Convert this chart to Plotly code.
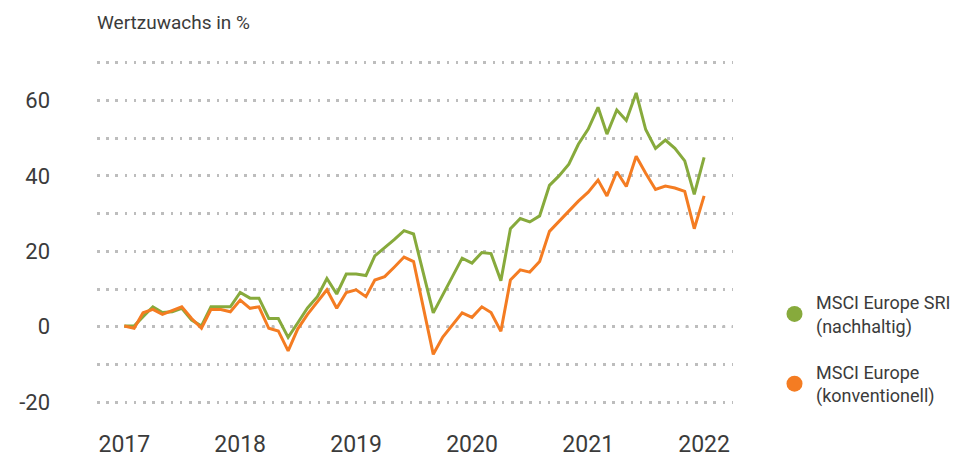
import pandas as pd
import plotly.graph_objects as go

# ---- data -------------------------------------------------------------
months = pd.date_range("2017-01-01", "2022-01-01", freq="MS")

sri = [0.2, 0.2, 2.7, 5.3, 3.8, 4.0, 4.9, 1.8, 0.2, 5.3, 5.3, 5.3,
       9.1, 7.6, 7.6, 2.2, 2.2, -2.8, 1.0, 5.0, 8.0, 12.8, 8.7, 14.0,
       14.0, 13.6, 18.8, 20.9, 23.1, 25.5, 24.6, None, 3.7, 8.4, 13.3, 18.2,
       16.9, 19.7, 19.4, 12.2, 26.0, 28.7, 27.8, 29.4, 37.5, 40.0, 43.1, 48.4,
       52.4, 58.2, 51.1, 57.5, 54.7, 62.0, 52.3, 47.3, 49.5, 47.3, 44.0, 35.1,
       44.9]

conv = [0.2, -0.4, 3.7, 4.6, 3.3, 4.3, 5.3, 2.2, -0.4, 4.6, 4.6, 4.0,
        7.1, 4.9, 5.3, -0.4, -1.1, -6.4, -0.6, 3.3, 6.7, 9.8, 4.9, 9.1,
        9.8, 8.0, 12.4, 13.3, 15.8, 18.5, 17.3, None, -7.3, -2.7, 0.7, 3.7,
        2.5, 5.3, 3.8, -1.2, 12.4, 15.1, 14.5, 17.3, 25.3, 28.0, 30.7, 33.3,
        35.7, 38.9, 34.7, 41.1, 37.2, 45.2, 40.7, 36.4, 37.3, 36.8, 35.9, 26.0,
        34.7]

series_names = ["MSCI Europe SRI<br>(nachhaltig)", "MSCI Europe<br>(konventionell)"]
series_colors = ["#87AA3C", "#F47C22"]

year_ticks = pd.date_range("2017-01-01", "2022-01-01", freq="YS")
year_labels = ["2017", "2018", "2019", "2020", "2021", "2022"]

y_ticks = [-20, -10, 0, 10, 20, 30, 40, 50, 60, 70]
y_labels = ["-20", "", "0", "", "20", "", "40", "", "60", ""]

# ---- figure -------------------------------------------------------------
FONT = "Roboto"
TXT = "#3b3b3b"

fig = go.Figure()
for vals, name, col in zip([sri, conv], series_names, series_colors):
    fig.add_trace(go.Scatter(
        x=months, y=vals, mode="lines", connectgaps=True,
        line=dict(color=col, width=3), showlegend=False, hoverinfo="skip"))
for name, col in zip(series_names, series_colors):
    fig.add_trace(go.Scatter(
        x=[None], y=[None], mode="markers", name=name, legendgroup=name,
        marker=dict(color=col, size=18, symbol="circle")))

fig.add_shape(type="line", xref="paper", x0=0, x1=1, yref="y", y0=0, y1=0,
              layer="below", line=dict(color="#6a6a6a", width=2.5, dash="2.5px,6.7px"))

fig.update_layout(
    width=953, height=457,
    margin=dict(l=97, r=220, t=59, b=51, autoexpand=False),
    paper_bgcolor="white", plot_bgcolor="white",
    font=dict(family=FONT, color=TXT),
    title=dict(text="Wertzuwachs in %", x=97 / 953, xanchor="left", xref="container",
               y=1 - 22 / 457, yanchor="middle", yref="container",
               font=dict(family=FONT, size=19, color=TXT)),
    xaxis=dict(range=["2016-10-07", "2022-04-02"], tickvals=year_ticks, ticktext=year_labels,
               showgrid=False, zeroline=False, showline=False, ticks="", automargin=False,
               ticklabelstandoff=22, tickfont=dict(size=23, color=TXT)),
    yaxis=dict(range=[-21, 71], tickvals=y_ticks, ticktext=y_labels, automargin=False,
               showgrid=True, gridcolor="#bdbdbd", gridwidth=2.5, griddash="2.5px,6.7px",
               zeroline=False, showline=False, ticks="", ticklabelstandoff=46,
               tickfont=dict(size=22, color=TXT)),
    legend=dict(x=773 / 953, xref="container", xanchor="left", y=1 - 284 / 457, yref="container",
                yanchor="top", font=dict(size=18, color=TXT), tracegroupgap=20,
                itemwidth=33, itemsizing="trace", bgcolor="rgba(0,0,0,0)"),
)

fig.write_html("out.html")
